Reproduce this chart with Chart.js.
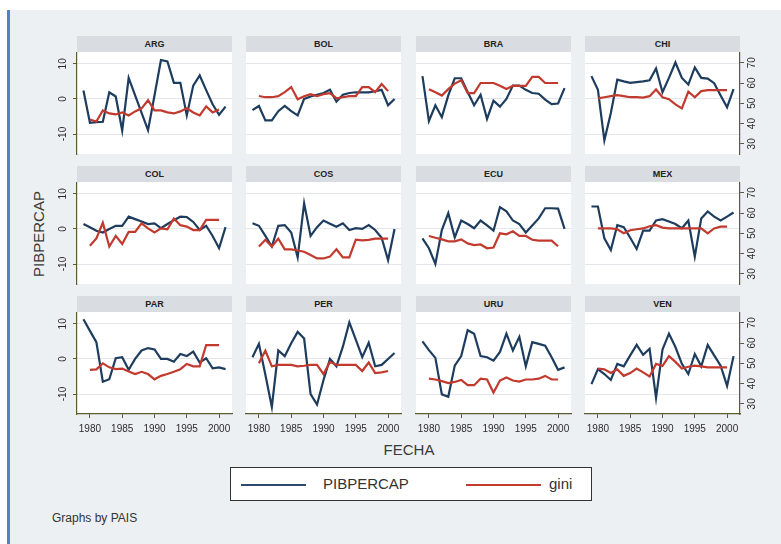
<!DOCTYPE html>
<html><head><meta charset="utf-8">
<script src="https://cdn.jsdelivr.net/npm/chart.js@4.4.1/dist/chart.umd.min.js"></script>
<style>
html,body{margin:0;padding:0;}
body{width:781px;height:544px;position:relative;overflow:hidden;background:#fff;font-family:'Liberation Sans',Arial,sans-serif;color:#333;}
#bg{position:absolute;left:10px;top:10px;right:0;bottom:0;background:#edf0f3;}
#edge{position:absolute;left:7px;top:10px;width:3px;bottom:0;background:#5680c4;}
.strip{position:absolute;height:16px;line-height:16px;background:#d9dde2;text-align:center;font-size:9px;font-weight:bold;color:#222;}
canvas{position:absolute;}
#ytitle{position:absolute;left:37.5px;top:234px;transform:translate(-50%,-50%) rotate(-90deg);font-size:15px;color:#3a3a3a;white-space:nowrap;}
#xtitle{position:absolute;left:359px;width:100px;top:441px;text-align:center;font-size:15px;line-height:18px;color:#3a3a3a;}
#legend{position:absolute;left:230px;top:467px;width:362px;height:34px;box-sizing:border-box;border:1px solid #333;background:#fff;}
#legend .ln{position:absolute;top:16px;height:2px;}
#legend .tx{position:absolute;top:7px;font-size:15px;line-height:18px;color:#333;}
#note{position:absolute;left:52px;top:510px;font-size:12px;line-height:16px;color:#333;}
</style></head><body>
<div id="bg"></div>
<div id="edge"></div>
<div id="ytitle">PIBPERCAP</div>
<div id="xtitle">FECHA</div>
<div id="legend">
  <span class="ln" style="left:10px;width:65px;background:#2a4a6e"></span>
  <span class="tx" style="left:92px">PIBPERCAP</span>
  <span class="ln" style="left:235px;width:75px;background:#c23a2e"></span>
  <span class="tx" style="left:318px">gini</span>
</div>
<div id="note">Graphs by PAIS</div>
<script>
// ---------- DATA ----------
const countries = ['ARG','BOL','BRA','CHI','COL','COS','ECU','MEX','PAR','PER','URU','VEN'];
const pibYears  = [1979,1980,1981,1982,1983,1984,1985,1986,1987,1988,1989,1990,1991,1992,1993,1994,1995,1996,1997,1998,1999,2000,2001];
const giniYears = [1980,1981,1982,1983,1984,1985,1986,1987,1988,1989,1990,1991,1992,1993,1994,1995,1996,1997,1998,1999,2000];
const xTicks    = [1980,1985,1990,1995,2000];
const pibTicks  = [-10,0,10];
const giniTicks = [30,40,50,60,70];

const pibARG = [2.4,-6.8,-6.6,-6.5,1.9,0.7,-9.0,6.0,1.0,-4.0,-8.9,1.0,11.1,10.7,4.6,4.6,-4.7,3.8,6.7,2.5,-1.5,-4.5,-2.2];
const pibBOL = [-3.2,-2.0,-6.1,-6.1,-3.5,-2.0,-3.5,-4.7,0.0,0.7,1.2,1.7,2.6,-0.8,1.2,1.7,1.9,1.9,1.9,2.2,2.6,-1.8,0.0];
const pibBRA = [6.5,-6.3,-1.8,-5.2,1.0,5.9,5.9,2.0,-1.8,1.2,-5.7,-0.5,-2.2,0.0,3.8,3.8,2.6,1.7,1.5,-0.2,-1.5,-1.3,3.1];
const pibCHI = [6.5,2.6,-11.8,-4.0,5.5,5.0,4.6,4.8,5.0,5.3,8.7,1.9,6.0,10.4,6.0,4.1,9.0,6.0,5.8,4.5,1.0,-2.4,2.8];
const pibCOL = [1.4,0.5,-0.5,-1.0,0.0,0.9,0.9,3.5,2.8,2.1,1.4,1.6,0.2,1.4,2.5,3.5,3.4,2.0,-0.3,0.9,-2.0,-5.5,0.5];
const pibCOS = [1.6,0.9,-2.0,-5.0,0.9,1.1,-1.0,-8.1,7.3,-2.0,0.5,2.4,1.5,0.6,1.6,-0.3,0.2,0.0,1.1,-0.3,-2.5,-8.9,0.0];
const pibECU = [-2.7,-5.5,-10.0,-0.3,4.5,-2.4,2.4,1.4,0.2,2.4,1.0,-0.5,6.2,5.0,2.4,1.4,-1.0,1.0,3.0,5.9,5.9,5.8,0.0];
const pibMEX = [6.4,6.4,-2.7,-6.0,1.1,0.5,-2.5,-5.7,-0.5,-0.5,2.4,2.8,2.1,1.4,0.2,2.4,-7.9,3.0,5.0,3.5,2.4,3.5,4.7];
const pibPAR = [11.3,8.0,4.8,-6.5,-5.8,0.2,0.5,-3.1,0.0,2.4,3.1,2.7,0.0,0.0,-0.8,1.4,0.8,2.1,-1.0,0.2,-2.7,-2.4,-2.9];
const pibPER = [0.5,4.3,-4.5,-13.7,2.4,0.8,4.5,7.7,5.8,-10.0,-13.0,-6.0,0.0,-2.1,3.5,10.4,5.5,0.5,4.6,-2.1,-1.7,0.0,1.7];
const pibURU = [5.0,2.5,0.3,-10.1,-10.8,-1.9,0.8,8.2,7.2,0.8,0.5,-0.5,2.0,7.2,2.4,6.3,-2.1,4.8,4.3,3.8,0.5,-3.1,-2.4];
const pibVEN = [-7.2,-2.9,-4.3,-6.0,-1.4,-2.1,1.0,4.0,1.2,2.9,-11.1,2.7,7.2,3.4,-1.4,-4.3,1.4,-2.1,4.0,1.0,-1.9,-7.7,0.8];

const giniARG = [42.0,41.0,46.5,45.0,44.5,45.5,44.0,46.0,47.5,51.5,46.5,46.5,45.5,45.0,46.0,47.5,45.5,44.0,48.5,45.5,47.0];
const giniBOL = [53.6,53.0,53.0,53.5,55.5,58.0,52.0,53.5,54.5,53.5,54.5,55.0,52.5,53.0,53.5,53.5,58.0,58.0,55.5,59.5,56.0];
const giniBRA = [56.9,55.4,53.8,57.0,59.7,61.4,55.0,55.0,60.0,60.0,60.0,58.6,57.0,58.6,58.6,58.6,63.0,63.0,60.0,60.0,60.0];
const giniCHI = [52.4,53.0,53.5,54.0,53.5,53.0,53.0,52.8,53.5,56.8,53.0,52.0,49.5,47.5,55.8,53.0,56.0,56.5,56.5,56.5,56.5];
const giniCOL = [43.9,47.5,55.2,43.5,48.7,44.7,50.7,50.7,54.9,52.4,50.4,52.4,52.0,57.3,54.0,53.3,51.6,51.6,56.6,56.6,56.6];
const giniCOS = [43.5,46.8,43.5,47.4,42.1,42.1,41.5,40.9,39.3,37.6,37.6,38.5,42.1,38.1,38.1,46.9,46.5,46.8,47.4,47.4,47.4];
const giniECU = [48.7,47.8,47.0,46.0,46.0,47.0,45.0,44.2,44.5,42.6,43.0,50.0,49.5,51.0,48.7,48.7,46.8,46.4,46.4,46.4,43.6];
const giniMEX = [52.4,52.4,52.4,52.0,50.0,51.5,52.0,52.4,53.5,54.0,52.8,52.4,52.4,52.4,52.4,52.4,52.4,50.0,52.4,53.3,53.3];
const giniPAR = [46.8,47.0,50.0,48.0,47.1,47.4,46.0,44.7,45.8,44.7,42.1,43.8,44.7,45.8,47.1,49.7,48.5,48.5,59.0,59.0,59.0];
const giniPER = [50.0,56.2,48.5,49.2,49.2,49.2,48.5,48.8,49.2,49.2,44.7,50.7,49.2,49.2,49.2,49.2,46.2,50.4,45.2,45.5,46.2];
const giniURU = [42.4,42.0,41.2,40.2,40.8,41.8,39.2,39.2,42.4,42.0,35.6,41.5,43.0,41.5,41.0,42.0,42.0,42.4,43.8,42.0,42.0];
const giniVEN = [47.4,47.0,45.2,47.0,43.8,45.2,47.4,45.5,43.5,49.7,48.7,53.5,50.7,47.4,48.3,48.8,48.5,48.0,48.0,48.0,48.0];

const pibSeries  = {ARG:pibARG,BOL:pibBOL,BRA:pibBRA,CHI:pibCHI,COL:pibCOL,COS:pibCOS,ECU:pibECU,MEX:pibMEX,PAR:pibPAR,PER:pibPER,URU:pibURU,VEN:pibVEN};
const giniSeries = {ARG:giniARG,BOL:giniBOL,BRA:giniBRA,CHI:giniCHI,COL:giniCOL,COS:giniCOS,ECU:giniECU,MEX:giniMEX,PAR:giniPAR,PER:giniPER,URU:giniURU,VEN:giniVEN};

// ---------- LAYOUT / STYLE ----------
const panelLeft = [77, 246, 416, 585];
const panelTop  = [53, 183, 313];
const PW = 155, PH = 101, PADL = 40, PADR = 40, PADT = 12, PADB = 32;
const AXIS = '#5d5a36', BLUE = '#1e3d5e', RED = '#c23a2e', GRID = '#e3e6ea';

Chart.defaults.font.family = "'Liberation Sans', Arial, sans-serif";
Chart.defaults.font.size = 10;
Chart.defaults.color = '#2b2b2b';

const whiteBg = {
  id: 'whiteBg',
  beforeDraw(chart) {
    const a = chart.chartArea, ctx = chart.ctx;
    ctx.save();
    ctx.fillStyle = '#ffffff';
    ctx.fillRect(a.left, a.top - 1, a.right - a.left, a.bottom - a.top + 1);
    ctx.restore();
  }
};

countries.forEach((name, i) => {
  const r = Math.floor(i / 4), c = i % 4;
  const strip = document.createElement('div');
  strip.className = 'strip';
  strip.style.left = panelLeft[c] + 'px';
  strip.style.top = (panelTop[r] - 17) + 'px';
  strip.style.width = PW + 'px';
  strip.textContent = name;
  document.body.appendChild(strip);

  const cv = document.createElement('canvas');
  cv.width = PADL + PW + PADR;
  cv.height = PADT + PH + PADB;
  cv.style.left = (panelLeft[c] - PADL) + 'px';
  cv.style.top = (panelTop[r] - PADT) + 'px';
  document.body.appendChild(cv);

  new Chart(cv, {
    type: 'line',
    data: {
      datasets: [
        { label: 'gini', yAxisID: 'y2', order: 0,
          data: giniYears.map((yr, k) => ({ x: yr, y: giniSeries[name][k] })),
          borderColor: RED, borderWidth: 2.2, pointRadius: 0, tension: 0, fill: false },
        { label: 'PIBPERCAP', yAxisID: 'y', order: 1,
          data: pibYears.map((yr, k) => ({ x: yr, y: pibSeries[name][k] })),
          borderColor: BLUE, borderWidth: 2.2, pointRadius: 0, tension: 0, fill: false }
      ]
    },
    options: {
      responsive: false, animation: false, devicePixelRatio: 1,
      layout: { padding: { top: PADT, left: 0, right: 0, bottom: 0 } },
      plugins: { legend: { display: false }, tooltip: { enabled: false } },
      scales: {
        x: {
          type: 'linear', position: 'bottom', min: 1978, max: 2002,
          afterBuildTicks: s => { s.ticks = xTicks.map(v => ({ value: v })); },
          afterFit: s => { s.height = PADB; },
          ticks: { display: r === 2, callback: v => String(v), padding: 5, maxRotation: 0, autoSkip: false, color: '#2b2b2b' },
          grid: { display: r === 2, drawOnChartArea: false, drawTicks: true, tickLength: 4, tickColor: AXIS, color: AXIS },
          border: { display: r === 2, color: AXIS, width: 1.2 }
        },
        y: {
          type: 'linear', position: 'left', min: -15.7, max: 13.1,
          afterBuildTicks: s => { s.ticks = pibTicks.map(v => ({ value: v })); },
          afterFit: s => { s.width = PADL; },
          ticks: { display: c === 0, callback: v => String(v), minRotation: 90, maxRotation: 90, crossAlign: 'center', padding: 3, color: '#2b2b2b' },
          grid: { color: GRID, lineWidth: 1, drawTicks: c === 0, tickLength: 4, tickColor: AXIS },
          border: { display: c === 0, color: AXIS, width: 1.2 }
        },
        y2: {
          type: 'linear', position: 'right', min: 25.0, max: 74.8,
          afterBuildTicks: s => { s.ticks = giniTicks.map(v => ({ value: v })); },
          afterFit: s => { s.width = PADR; },
          ticks: { display: c === 3, callback: v => String(v), minRotation: 90, maxRotation: 90, crossAlign: 'center', padding: 3, color: '#2b2b2b' },
          grid: { drawOnChartArea: false, drawTicks: c === 3, tickLength: 4, tickColor: AXIS },
          border: { display: c === 3, color: AXIS, width: 1.2 }
        }
      }
    },
    plugins: [whiteBg]
  });
});
</script>
</body></html>
